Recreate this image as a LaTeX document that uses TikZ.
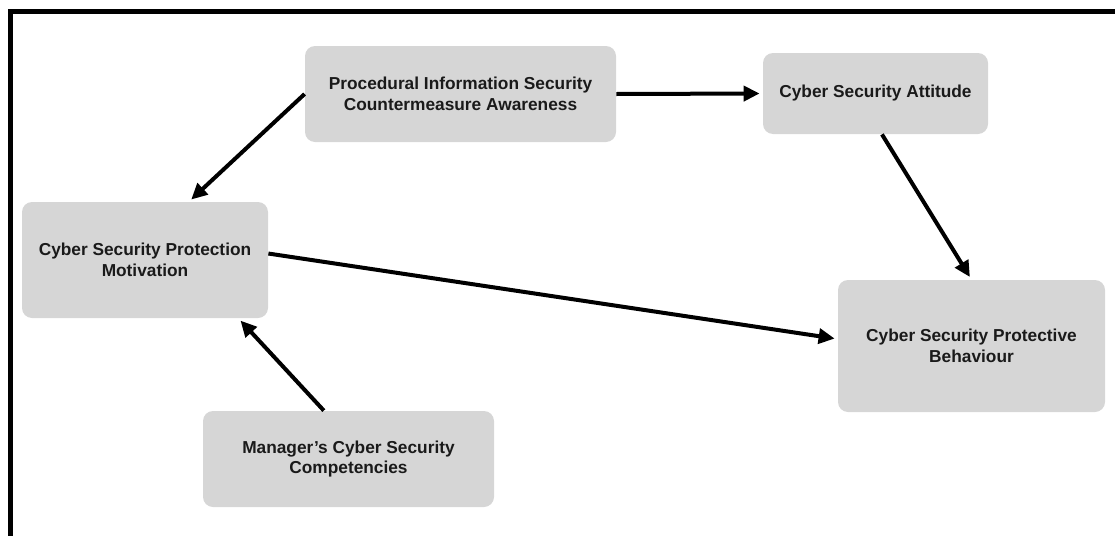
\documentclass[tikz,border=0pt]{standalone}
\usepackage{fontspec}
\setmainfont{Liberation Sans}
\usetikzlibrary{arrows.meta,positioning}
\definecolor{boxgray}{HTML}{D6D6D6}
\definecolor{textdark}{HTML}{1A1A1A}

\begin{document}
\begin{tikzpicture}[
  x=0.5pt, y=-0.5pt,
  box/.style={fill=boxgray, rounded corners=5pt, align=center, inner sep=0pt, text=textdark, font=\fontsize{8.65}{10.4}\selectfont\bfseries},
  arr/.style={-{Triangle[length=8pt,width=7.5pt]}, line width=2pt, shorten >=1.5pt}
]
\useasboundingbox (0,0) rectangle (1115,536);
% outer frame (only top and left edges show)
\draw[line width=2.5pt] (10.5,536) -- (10.5,11.5) -- (1115,11.5);

\node[box, minimum width=155.5pt, minimum height=48pt] (proc) at (460.5,94) {Procedural Information Security\\Countermeasure Awareness};
\node[box, minimum width=112.5pt, minimum height=40.5pt] (att) at (875.5,93.5) {Cyber Security Attitude};
\node[box, minimum width=123pt, minimum height=58pt] (mot) at (145,260) {Cyber Security Protection\\Motivation};
\node[box, minimum width=133.5pt, minimum height=66pt] (beh) at (971.5,346) {Cyber Security Protective\\Behaviour};
\node[box, minimum width=145.5pt, minimum height=48pt] (mgr) at (348.5,459) {Manager’s Cyber Security\\Competencies};

\draw[arr] (proc.west) -- (mot.53);
\draw[arr] (proc.east) -- (att.west);
\draw[arr] (att.-81) -- (beh.north);
\draw[arr] (mot.3) -- (beh.177);
\draw[arr] (mgr.117) -- (mot.-32);
\end{tikzpicture}
\end{document}
